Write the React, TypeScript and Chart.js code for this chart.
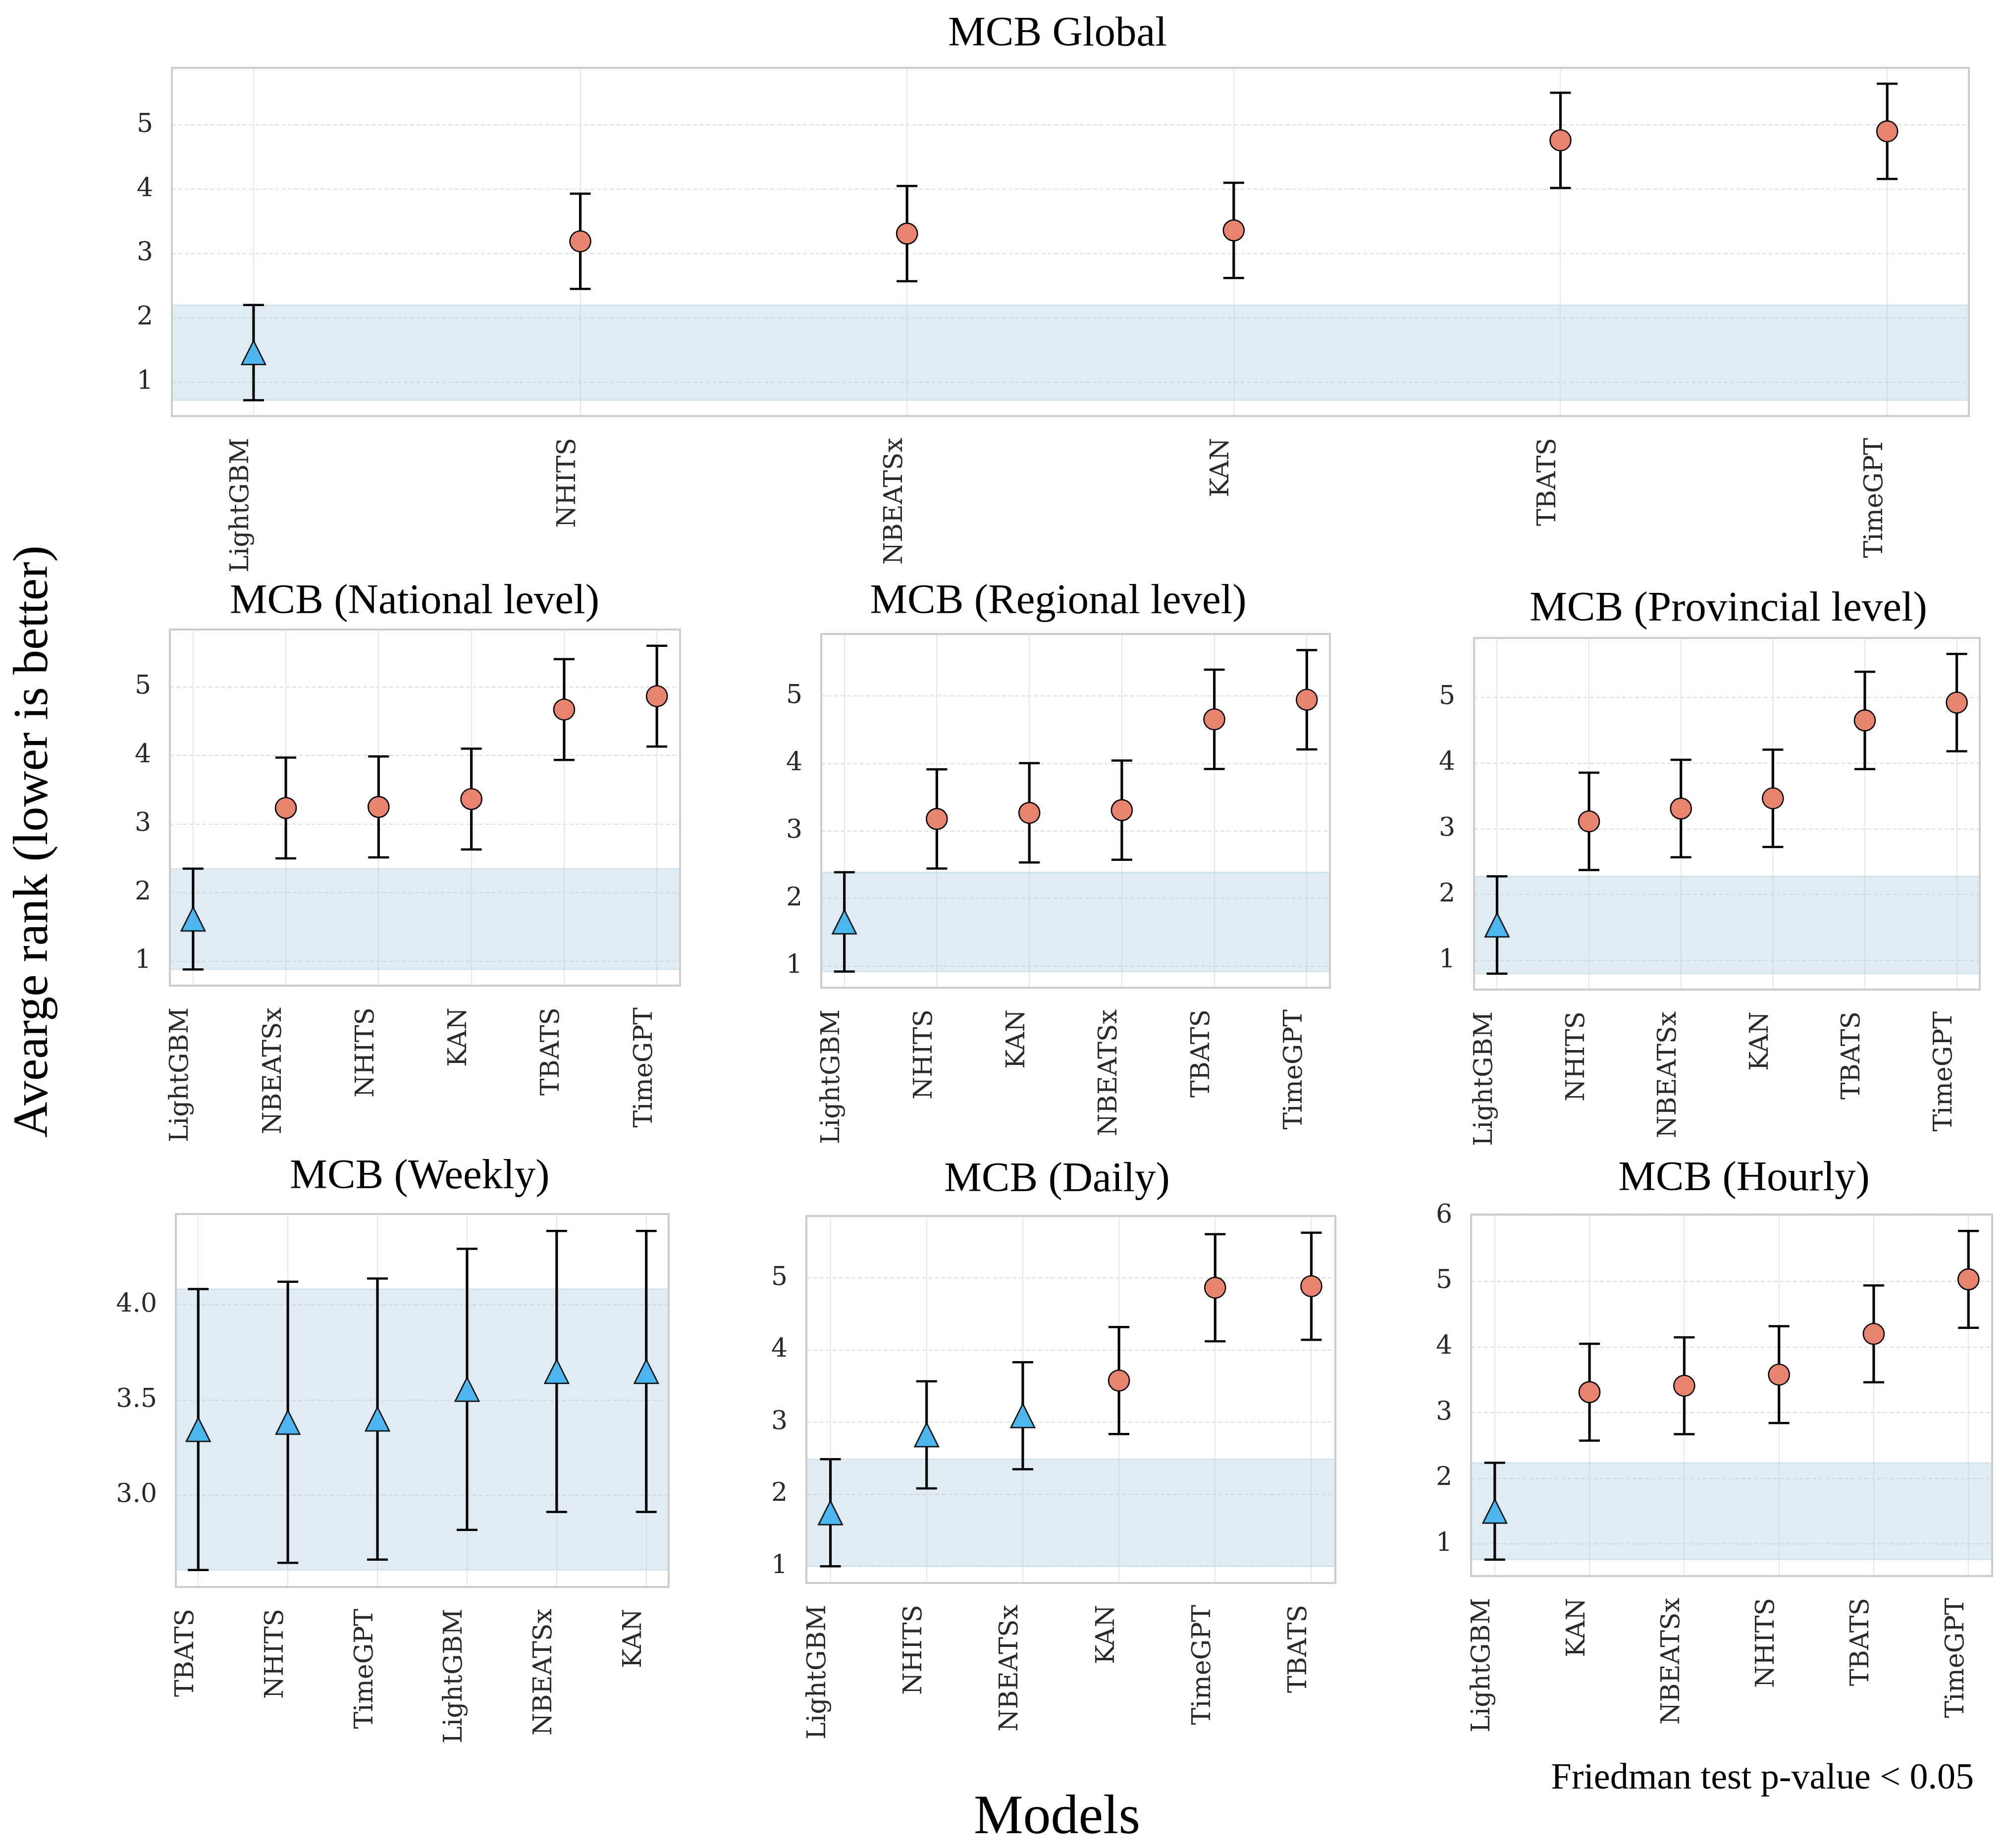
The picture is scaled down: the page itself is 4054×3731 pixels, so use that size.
import React, { useEffect, useRef } from 'react';
import { Chart, registerables } from 'chart.js';

Chart.register(...registerables);

// ------------------------------------------------------------------
// Data (average rank per model; MCB half-width of the interval)
// ------------------------------------------------------------------
const globalModels = ['LightGBM', 'NHITS', 'NBEATSx', 'KAN', 'TBATS', 'TimeGPT'];
const globalRanks = [1.46, 3.19, 3.31, 3.36, 4.76, 4.9];
const globalHalfWidth = 0.74;

const nationalModels = ['LightGBM', 'NBEATSx', 'NHITS', 'KAN', 'TBATS', 'TimeGPT'];
const nationalRanks = [1.615, 3.235, 3.25, 3.365, 4.67, 4.865];
const nationalHalfWidth = 0.735;

const regionalModels = ['LightGBM', 'NHITS', 'KAN', 'NBEATSx', 'TBATS', 'TimeGPT'];
const regionalRanks = [1.655, 3.18, 3.27, 3.31, 4.655, 4.945];
const regionalHalfWidth = 0.735;

const provincialModels = ['LightGBM', 'NHITS', 'NBEATSx', 'KAN', 'TBATS', 'TimeGPT'];
const provincialRanks = [1.54, 3.115, 3.31, 3.465, 4.65, 4.92];
const provincialHalfWidth = 0.74;

const weeklyModels = ['TBATS', 'NHITS', 'TimeGPT', 'LightGBM', 'NBEATSx', 'KAN'];
const weeklyRanks = [3.345, 3.383, 3.4, 3.556, 3.65, 3.65];
const weeklyHalfWidth = 0.738;

const dailyModels = ['LightGBM', 'NHITS', 'NBEATSx', 'KAN', 'TimeGPT', 'TBATS'];
const dailyRanks = [1.743, 2.825, 3.09, 3.578, 4.866, 4.887];
const dailyHalfWidth = 0.743;

const hourlyModels = ['LightGBM', 'KAN', 'NBEATSx', 'NHITS', 'TBATS', 'TimeGPT'];
const hourlyRanks = [1.5, 3.313, 3.41, 3.58, 4.2, 5.03];
const hourlyHalfWidth = 0.737;

const rankTicks = [1, 2, 3, 4, 5];
const hourlyTicks = [1, 2, 3, 4, 5, 6];
const weeklyTicks = [3.0, 3.5, 4.0];

const yAxisLabel = 'Avearge rank (lower is better)';
const xAxisLabel = 'Models';
const noteText = 'Friedman test p-value < 0.05';

// ------------------------------------------------------------------
// Styling
// ------------------------------------------------------------------
const CIRCLE_COLOR = '#E8836F';
const TRI_COLOR = '#4DB6EE';
const BAND_COLOR = 'rgba(176, 208, 226, 0.4)';
const BAND_EDGE = 'rgba(176, 208, 226, 0.55)';
const FRAME_COLOR = '#CCCCCC';
const TICK_COLOR = '#2a2a2a';
const TICK_FONT = { family: 'DejaVu Serif', size: 52 };
const TITLE_FONT = '85px "Liberation Serif"';

const YW = 220;
const TOP = 170;
const RIGHT = 40;
const XH = 420;

type PanelSpec = {
  title: string;
  models: string[];
  ranks: number[];
  half: number;
  yTicks: number[];
  decimals: number;
  l: number;
  t: number;
  r: number;
  b: number;
  titleDx: number;
  titleGap: number;
};

const panels: PanelSpec[] = [
  { title: 'MCB Global', models: globalModels, ranks: globalRanks, half: globalHalfWidth, yTicks: rankTicks, decimals: 0,
    l: 347, t: 137, r: 3975, b: 840, titleDx: -26, titleGap: 45 },
  { title: 'MCB (National level)', models: nationalModels, ranks: nationalRanks, half: nationalHalfWidth, yTicks: rankTicks, decimals: 0,
    l: 343, t: 1271, r: 1373, b: 1990, titleDx: -21, titleGap: 33 },
  { title: 'MCB (Regional level)', models: regionalModels, ranks: regionalRanks, half: regionalHalfWidth, yTicks: rankTicks, decimals: 0,
    l: 1658, t: 1280, r: 2685, b: 1994, titleDx: -35, titleGap: 42 },
  { title: 'MCB (Provincial level)', models: provincialModels, ranks: provincialRanks, half: provincialHalfWidth, yTicks: rankTicks, decimals: 0,
    l: 2976, t: 1288, r: 3997, b: 1998, titleDx: 3, titleGap: 35 },
  { title: 'MCB (Weekly)', models: weeklyModels, ranks: weeklyRanks, half: weeklyHalfWidth, yTicks: weeklyTicks, decimals: 1,
    l: 355, t: 2451, r: 1350, b: 3204, titleDx: -5, titleGap: 52 },
  { title: 'MCB (Daily)', models: dailyModels, ranks: dailyRanks, half: dailyHalfWidth, yTicks: rankTicks, decimals: 0,
    l: 1628, t: 2455, r: 2696, b: 3196, titleDx: -28, titleGap: 50 },
  { title: 'MCB (Hourly)', models: hourlyModels, ranks: hourlyRanks, half: hourlyHalfWidth, yTicks: hourlyTicks, decimals: 0,
    l: 2970, t: 2452, r: 4022, b: 3182, titleDx: 25, titleGap: 49 },
];

function makeTriangle(): HTMLCanvasElement {
  const c = document.createElement('canvas');
  c.width = 62;
  c.height = 62;
  const ctx = c.getContext('2d')!;
  const h = 24;
  ctx.beginPath();
  ctx.moveTo(31, 31 - h);
  ctx.lineTo(31 - h, 31 + h);
  ctx.lineTo(31 + h, 31 + h);
  ctx.closePath();
  ctx.fillStyle = TRI_COLOR;
  ctx.fill();
  ctx.lineWidth = 2.6;
  ctx.lineJoin = 'miter';
  ctx.strokeStyle = '#000';
  ctx.stroke();
  return c;
}

function Panel({ spec }: { spec: PanelSpec }) {
  const ref = useRef<HTMLCanvasElement | null>(null);
  const width = spec.r - spec.l + YW + RIGHT;
  const height = spec.b - spec.t + TOP + XH;

  useEffect(() => {
    const canvas = ref.current;
    if (!canvas) return;
    const n = spec.models.length;
    const lows = spec.ranks.map((v) => v - spec.half);
    const highs = spec.ranks.map((v) => v + spec.half);
    const dMin = Math.min(...lows);
    const dMax = Math.max(...highs);
    const pad = 0.05 * (dMax - dMin);
    const yMin = dMin - pad;
    const yMax = dMax + pad;
    const xMin = -0.05 * (n - 1);
    const xMax = (n - 1) * 1.05;
    let best = 0;
    spec.ranks.forEach((v, i) => {
      if (v < spec.ranks[best]) best = i;
    });
    const bandLo = lows[best];
    const bandHi = highs[best];
    const tri = makeTriangle();
    const notDifferent = spec.ranks.map((_, i) => lows[i] <= bandHi);

    const decor = {
      id: 'decor',
      afterDatasetsDraw(chart: any) {
        const { ctx, chartArea: a } = chart;
        ctx.save();
        ctx.strokeStyle = FRAME_COLOR;
        ctx.lineWidth = 4;
        ctx.strokeRect(a.left, a.top, a.right - a.left, a.bottom - a.top);
        ctx.restore();
      },
      afterDraw(chart: any) {
        const { ctx, chartArea: a } = chart;
        ctx.save();
        ctx.font = TITLE_FONT;
        ctx.fillStyle = '#000';
        ctx.textAlign = 'center';
        ctx.textBaseline = 'alphabetic';
        ctx.fillText(spec.title, (a.left + a.right) / 2 + spec.titleDx, a.top - spec.titleGap);
        ctx.restore();
      },
    };

    const chart = new Chart(canvas, {
      type: 'scatter',
      data: {
        datasets: [
          {
            type: 'line',
            data: [{ x: xMin, y: bandLo }, { x: xMax, y: bandLo }],
            borderColor: BAND_EDGE,
            borderWidth: 2,
            pointRadius: 0,
            fill: false,
            order: 5,
          } as any,
          {
            type: 'line',
            data: [{ x: xMin, y: bandHi }, { x: xMax, y: bandHi }],
            borderColor: BAND_EDGE,
            borderWidth: 2,
            pointRadius: 0,
            backgroundColor: BAND_COLOR,
            fill: '-1',
            order: 4,
          } as any,
          {
            type: 'bar',
            data: spec.ranks.map((_, i) => ({ x: i, y: [lows[i], highs[i]] })),
            backgroundColor: '#000',
            borderWidth: 0,
            barThickness: 4.5,
            order: 3,
          } as any,
          {
            type: 'scatter',
            data: [
              ...spec.ranks.map((_, i) => ({ x: i, y: lows[i] })),
              ...spec.ranks.map((_, i) => ({ x: i, y: highs[i] })),
            ],
            pointStyle: 'line',
            pointRadius: 21,
            borderWidth: 4.5,
            borderColor: '#000',
            order: 2,
          } as any,
          {
            type: 'scatter',
            data: spec.ranks.map((v, i) => ({ x: i, y: v })),
            pointStyle: notDifferent.map((d) => (d ? tri : 'circle')),
            pointRadius: 21,
            backgroundColor: notDifferent.map((d) => (d ? TRI_COLOR : CIRCLE_COLOR)),
            borderColor: '#000',
            borderWidth: 2.6,
            order: 1,
          } as any,
        ],
      },
      options: {
        responsive: false,
        maintainAspectRatio: false,
        animation: false,
        devicePixelRatio: 1,
        events: [],
        layout: { padding: { left: 0, top: TOP, right: RIGHT, bottom: 0 }, autoPadding: false } as any,
        plugins: {
          legend: { display: false },
          tooltip: { enabled: false },
          title: { display: false },
        },
        scales: {
          x: {
            type: 'linear',
            offset: false,
            min: xMin,
            max: xMax,
            afterBuildTicks: (s: any) => {
              s.ticks = spec.models.map((_, i) => ({ value: i }));
            },
            afterFit: (s: any) => {
              s.height = XH;
              s.paddingLeft = 0;
              s.paddingRight = 0;
            },
            ticks: {
              callback: (v: any) => spec.models[Math.round(Number(v))],
              font: TICK_FONT,
              color: TICK_COLOR,
              padding: 44,
              minRotation: 90,
              maxRotation: 90,
              autoSkip: false,
              labelOffset: -24,
            },
            grid: { color: '#E6E6E6', lineWidth: 2, drawTicks: false, offset: false },
            border: { display: false },
          },
          y: {
            type: 'linear',
            offset: false,
            min: yMin,
            max: yMax,
            afterBuildTicks: (s: any) => {
              s.ticks = spec.yTicks.filter((v) => v >= yMin && v <= yMax).map((v) => ({ value: v }));
            },
            afterFit: (s: any) => {
              s.width = YW;
              s.paddingTop = 0;
              s.paddingBottom = 0;
            },
            ticks: {
              callback: (v: any) => Number(v).toFixed(spec.decimals),
              font: TICK_FONT,
              color: TICK_COLOR,
              padding: 38,
              autoSkip: false,
            },
            grid: { color: '#DEDEDE', lineWidth: 2, drawTicks: false, offset: false },
            border: { display: false, dash: [8, 5] },
          },
        },
      } as any,
      plugins: [decor],
    });
    return () => chart.destroy();
  }, [spec]);

  return (
    <canvas
      ref={ref}
      width={width}
      height={height}
      style={{ position: 'absolute', left: spec.l - YW, top: spec.t - TOP, width, height }}
    />
  );
}

export default function App() {
  return (
    <div
      style={{
        position: 'absolute',
        left: 0,
        top: 0,
        width: 4054,
        height: 3731,
        background: '#ffffff',
        overflow: 'hidden',
      }}
    >
      {panels.map((p) => (
        <Panel key={p.title} spec={p} />
      ))}
      <div
        style={{
          position: 'absolute',
          left: 62 - 700,
          top: 1699 - 50,
          width: 1400,
          height: 100,
          lineHeight: '100px',
          fontSize: 100,
          fontFamily: '"Liberation Serif"',
          textAlign: 'center',
          whiteSpace: 'nowrap',
          color: '#000',
          transform: 'rotate(-90deg)',
          transformOrigin: '50% 50%',
        }}
      >
        {yAxisLabel}
      </div>
      <div
        style={{
          position: 'absolute',
          left: 2134 - 500,
          top: 3607,
          width: 1000,
          height: 112,
          lineHeight: '112px',
          fontSize: 112,
          fontFamily: '"Liberation Serif"',
          textAlign: 'center',
          whiteSpace: 'nowrap',
          color: '#000',
        }}
      >
        {xAxisLabel}
      </div>
      <div
        style={{
          position: 'absolute',
          left: 3985 - 1200,
          top: 3549,
          width: 1200,
          height: 74,
          lineHeight: '74px',
          fontSize: 74,
          fontFamily: '"Liberation Serif"',
          textAlign: 'right',
          whiteSpace: 'nowrap',
          color: '#000',
        }}
      >
        {noteText}
      </div>
    </div>
  );
}
